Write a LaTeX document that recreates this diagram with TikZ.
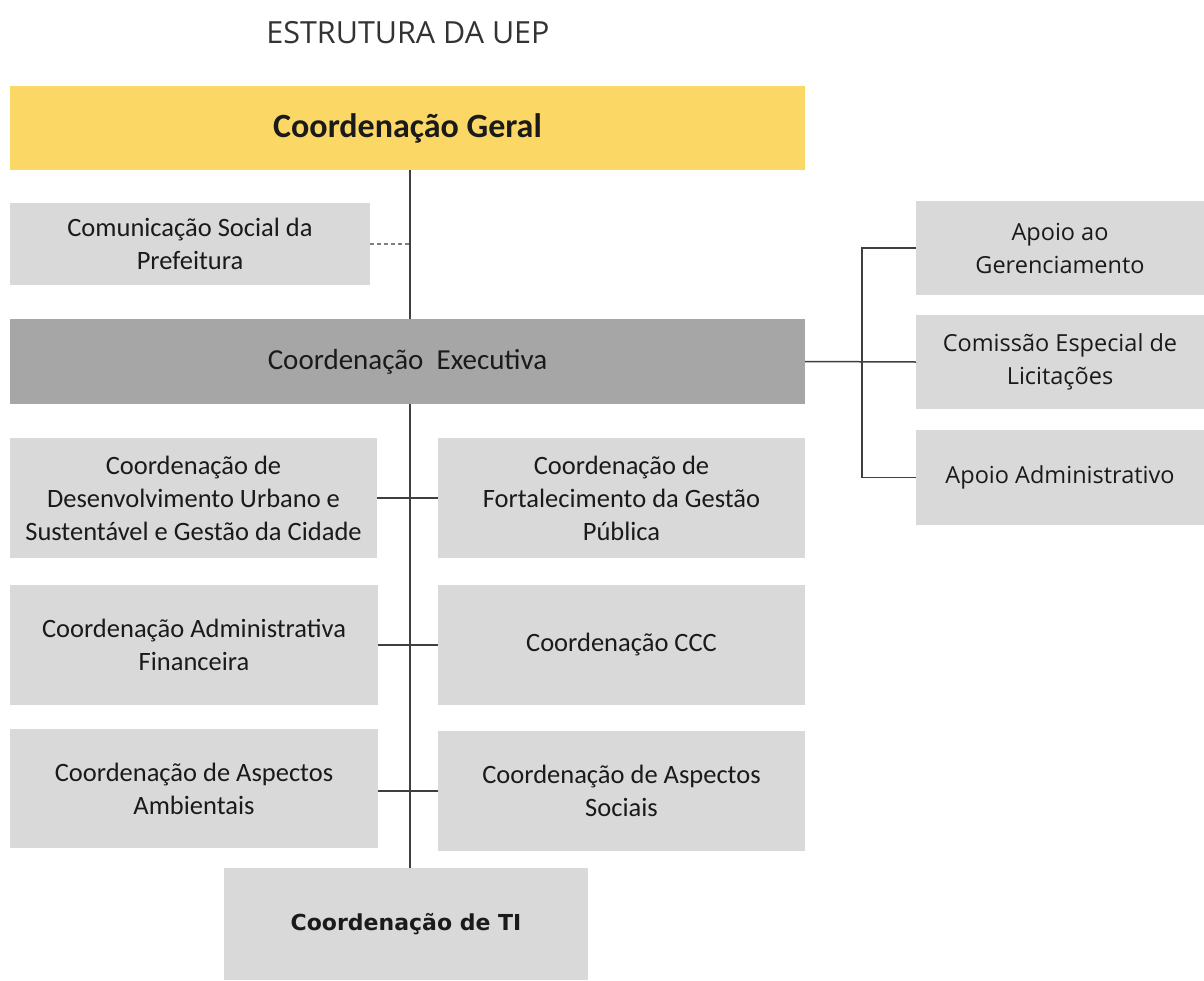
\documentclass[tikz,border=0pt]{standalone}
\usepackage{fontspec}
\setmainfont{Carlito}
\newfontfamily\osans{Open Sans}
\newfontfamily\dvs{DejaVu Sans}
\definecolor{ygold}{HTML}{FBD765}
\definecolor{midgray}{HTML}{A6A6A6}
\definecolor{lgray}{HTML}{D9D9D9}
\definecolor{linec}{HTML}{3F3F3F}
\definecolor{txt}{HTML}{1A1A1A}
\tikzset{
  box/.style={rectangle, inner sep=0pt, outer sep=0pt, align=center, text=txt},
  lbox/.style={box, fill=lgray, font=\fontsize{26.5}{33}\selectfont},
  rbox/.style={box, fill=lgray, minimum width=288, minimum height=94, font=\osans\fontsize{23.5}{33}\selectfont},
  conn/.style={draw=linec, line width=1.5pt},
  dconn/.style={draw=gray, line width=1.2pt, dashed, dash pattern=on 4pt off 3pt}
}
\begin{document}
\begin{tikzpicture}[x=1pt,y=-1pt]
\useasboundingbox (0,0) rectangle (1204,980);
\fill[white] (0,0) rectangle (1204,980);

\node[anchor=base, text=black!80, font=\osans\fontsize{30.5}{35}\selectfont] (title) at (408,43) {ESTRUTURA DA UEP};

\node[box, fill=ygold, minimum width=795, minimum height=84, font=\bfseries\fontsize{34}{38}\selectfont] (geral) at (407.5,128) {Coordenação Geral};
\node[lbox, minimum width=360, minimum height=82] (com) at (190,244) {Comunicação Social da\\Prefeitura};
\node[box, fill=midgray, minimum width=795, minimum height=85, font=\fontsize{29}{34}\selectfont] (exec) at (407.5,361.5) {Coordenação\ \ Executiva};

\node[lbox, minimum width=367, minimum height=120] (l1) at (193.5,498) {Coordenação de\\Desenvolvimento Urbano e\\Sustentável e Gestão da Cidade};
\node[lbox, minimum width=367, minimum height=120] (r1) at (621.5,498) {Coordenação de\\Fortalecimento da Gestão\\Pública};
\node[lbox, minimum width=368, minimum height=120] (l2) at (194,645) {Coordenação Administrativa\\Financeira};
\node[lbox, minimum width=367, minimum height=120] (r2) at (621.5,645) {Coordenação CCC};
\node[lbox, minimum width=368, minimum height=119] (l3) at (194,788.5) {Coordenação de Aspectos\\Ambientais};
\node[lbox, minimum width=367, minimum height=120] (r3) at (621.5,791) {Coordenação de Aspectos\\Sociais};
\node[box, fill=lgray, minimum width=364, minimum height=112, font=\dvs\bfseries\fontsize{22}{26}\selectfont] (ti) at (406,924) {Coordenação de TI};

\node[rbox] (a1) at (1060,248) {Apoio ao\\Gerenciamento};
\node[rbox] (a2) at (1060,362) {Comissão Especial de\\Licitações};
\node[rbox, minimum height=95] (a3) at (1060,477.5) {Apoio Administrativo};

\coordinate (spine) at (410,0);
\coordinate (bx) at (862,0);

% spine
\draw[conn] (geral.south -| spine) -- (exec.north -| spine);
\draw[conn] (exec.south -| spine) -- (ti.north -| spine);
\draw[dconn] (com.east) -- (com.east -| spine);

% row connectors
\draw[conn] (l1.east) -- (r1.west);
\draw[conn] (l2.east) -- (r2.west);
\draw[conn] (l3.east |- 0,791) -- (r3.west);

% right bracket
\draw[conn] (exec.east) -- (a2.west);
\draw[conn] (a1.west) -- (a1.west -| bx) -- (a3.west -| bx) -- (a3.west);
\end{tikzpicture}
\end{document}
